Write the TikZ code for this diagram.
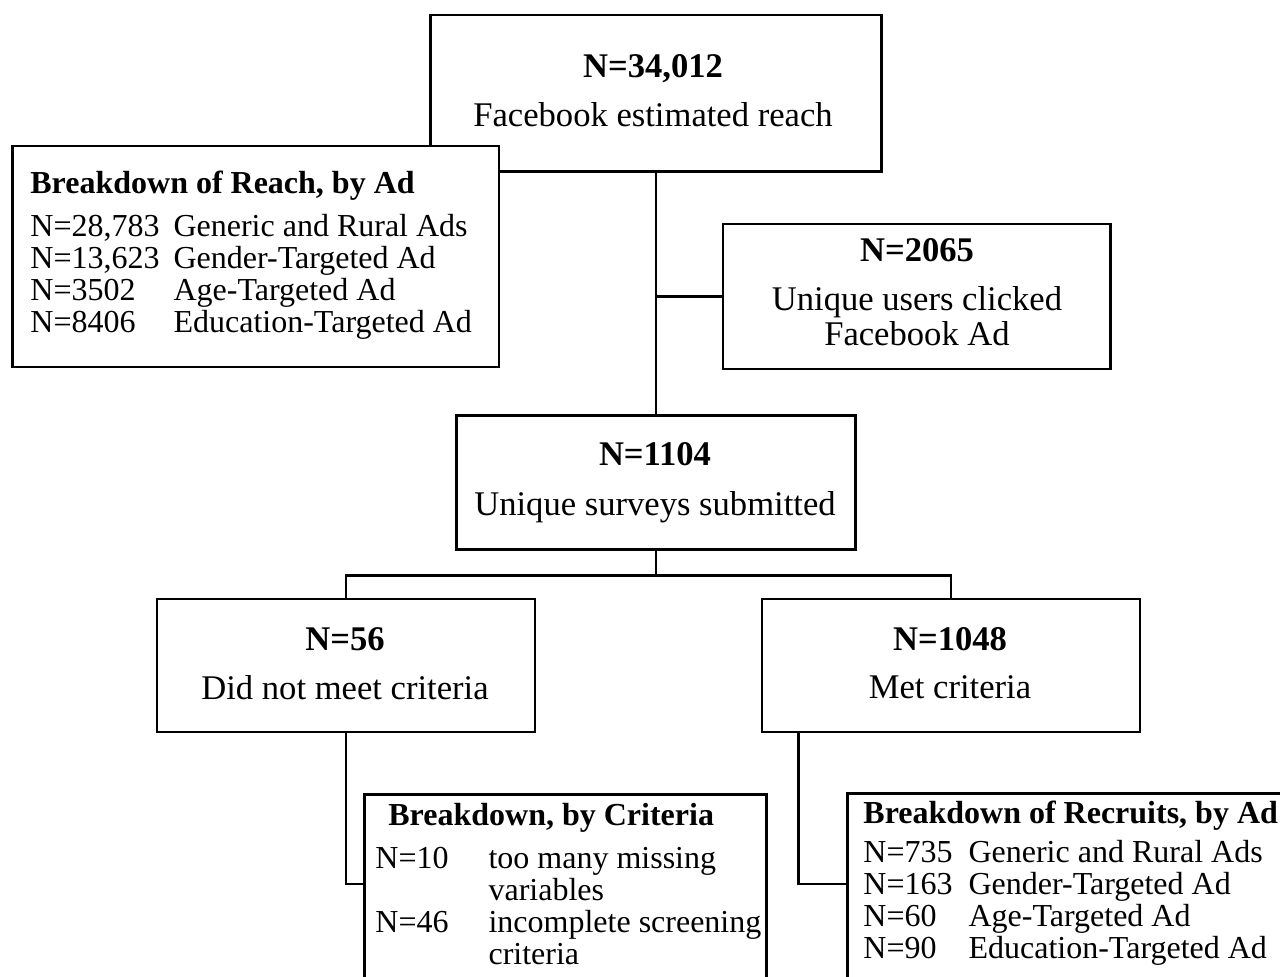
\documentclass[tikz,border=0pt]{standalone}
\usepackage{fontspec}
\setmainfont{Liberation Serif}
\usetikzlibrary{calc}

\begin{document}
\begin{tikzpicture}[
    x=0.5pt, y=-0.5pt,
    box/.style={draw=black, line width=1.45pt, fill=white, inner sep=0pt},
    lnk/.style={black, line width=1.45pt},
    num/.style={font=\fontsize{17.3}{20}\selectfont\bfseries, inner sep=0pt, anchor=base},
    txt/.style={font=\fontsize{17.3}{20}\selectfont, inner sep=0pt, anchor=base},
    ttl/.style={font=\fontsize{16}{16}\selectfont\bfseries, inner sep=0pt, anchor=base west},
    lst/.style={font=\fontsize{16}{16}\selectfont, inner sep=0pt, anchor=base west},
  ]

  % ---- frame: 1280 x 976, y grows downwards ---------------------------------
  \useasboundingbox (0,0) rectangle (1280,976);
  \clip (0,0) rectangle (1280,976);

  % ---- reach and its breakdown ---------------------------------------------
  \node[box, minimum width=225.2pt, minimum height=78.4pt] (reach) at (656,93.4) {};
  \node[num] (reachN) at (653,77)    {N=34,012};
  \node[txt] (reachT) at (653,126.7) {Facebook estimated reach};

  \node[box, minimum width=243.2pt, minimum height=110.5pt] (adreach) at (255.8,256.5) {};
  \node[ttl] (adreachT) at (30,193) {Breakdown of Reach, by Ad};
  \node[lst] (adreachL) at (30,236.7) {\begin{tabular}[t]{@{}l@{\hspace{7pt}}l@{}}
      N=28,783 & Generic and Rural Ads\\
      N=13,623 & Gender-Targeted Ad\\
      N=3502   & Age-Targeted Ad\\
      N=8406   & Education-Targeted Ad
    \end{tabular}};

  % ---- clicks and surveys ---------------------------------------------------
  \node[box, minimum width=193.9pt, minimum height=72.5pt] (clicked) at (916.9,296.5) {};
  \node[num] (clickedN)  at (917,261) {N=2065};
  \node[txt] (clickedT1) at (917,310) {Unique users clicked};
  \node[txt] (clickedT2) at (917,345) {Facebook Ad};

  \node[box, minimum width=199.2pt, minimum height=66.7pt] (surveys) at (656,482.4) {};
  \node[num] (surveysN) at (655,465) {N=1104};
  \node[txt] (surveysT) at (655,515) {Unique surveys submitted};

  % ---- screening ------------------------------------------------------------
  \node[box, minimum width=189pt, minimum height=66.5pt] (notmet) at (346,665.5) {};
  \node[num] (notmetN) at (345,650) {N=56};
  \node[txt] (notmetT) at (345,699) {Did not meet criteria};

  \node[box, minimum width=189pt, minimum height=66.5pt] (met) at (951,665.5) {};
  \node[num] (metN) at (950,650) {N=1048};
  \node[txt] (metT) at (950,698) {Met criteria};

  % ---- breakdowns at the bottom (cut by the frame) ---------------------------
  \node[box, anchor=north west, minimum width=201pt, minimum height=110pt] (crit) at (363,793) {};
  \node[ttl] (critT) at (388,825) {Breakdown, by Criteria};
  \node[lst] (critL) at (375,868) {\begin{tabular}[t]{@{}l@{\hspace{20pt}}l@{}}
      N=10 & too many missing\\
           & variables\\
      N=46 & incomplete screening\\
           & criteria
    \end{tabular}};

  \node[box, anchor=north west, minimum width=250pt, minimum height=110pt] (recruits) at (846,792) {};
  \node[ttl] (recruitsT) at (863,823) {Breakdown of Recruits, by Ad};
  \node[lst] (recruitsL) at (863,862) {\begin{tabular}[t]{@{}l@{\hspace{8pt}}l@{}}
      N=735 & Generic and Rural Ads\\
      N=163 & Gender-Targeted Ad\\
      N=60  & Age-Targeted Ad\\
      N=90  & Education-Targeted Ad
    \end{tabular}};

  % ---- connectors -----------------------------------------------------------
  \draw[lnk] (reach.south) -- (surveys.north);
  \draw[lnk] (reach.south |- clicked.west) -- (clicked.west);

  \draw[lnk] (surveys.south) -- ++(0,24.5) coordinate (fork);
  \draw[lnk] (notmet.north) |- (fork) -| (met.north);

  \coordinate (critin) at ($(crit.north west)+(0,91)$);
  \draw[lnk] (notmet.south) |- (critin);

  \coordinate (metout) at ($(met.south west)+(38,0)$);
  \coordinate (recin)  at ($(recruits.north west)+(0,92)$);
  \draw[lnk] (metout) |- (recin);

\end{tikzpicture}
\end{document}
